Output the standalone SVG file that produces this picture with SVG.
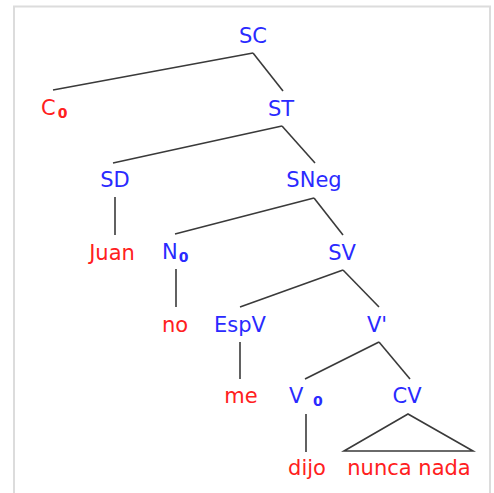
<svg xmlns="http://www.w3.org/2000/svg" width="494" height="493" viewBox="0 0 494 493">
<style>
text{font-family:"DejaVu Sans",Verdana,sans-serif;font-size:21px}
.ph{fill:#2a2aff;text-anchor:middle}
.lx{fill:#ff2020;text-anchor:middle}
.st{text-anchor:start}
.sub{font-size:14px;font-weight:bold}
#edges line,#edges polygon{stroke:#3a3a3a;stroke-width:1.6;fill:none}
</style>
<rect x="0" y="0" width="494" height="493" fill="#fff"/>
<rect x="14" y="6.5" width="476" height="500" fill="none" stroke="#dcdcdc" stroke-width="2"/>
<g id="edges">
<line x1="253" y1="53" x2="53" y2="90"/>
<line x1="253" y1="53" x2="283" y2="91"/>
<line x1="282" y1="126" x2="113" y2="163"/>
<line x1="282" y1="126" x2="315" y2="163"/>
<line x1="115" y1="197" x2="115" y2="235"/>
<line x1="314" y1="198" x2="175" y2="234"/>
<line x1="314" y1="198" x2="343" y2="235"/>
<line x1="176" y1="269" x2="176" y2="307"/>
<line x1="343" y1="270" x2="240" y2="307"/>
<line x1="343" y1="270" x2="379" y2="307"/>
<line x1="240" y1="342" x2="240" y2="379"/>
<line x1="379" y1="342" x2="305" y2="379"/>
<line x1="379" y1="342" x2="410" y2="379"/>
<line x1="306" y1="414" x2="306" y2="452"/>
<polygon points="408,414 344,451 473,451"/>
</g>
<g id="n-SC"><text class="ph" x="253" y="43">SC</text></g>
<g id="n-C0"><text class="ph st" x="41" y="115" fill="#ff2020" style="fill:#ff2020">C<tspan class="sub" dx="2" dy="3">0</tspan></text></g>
<g id="n-ST"><text class="ph" x="281" y="116">ST</text></g>
<g id="n-SD"><text class="ph" x="115" y="187">SD</text></g>
<g id="n-SNeg"><text class="ph" x="314" y="187">SNeg</text></g>
<g id="n-Juan"><text class="lx" x="112" y="260">Juan</text></g>
<g id="n-N0"><text class="ph st" x="162" y="259">N<tspan class="sub" dx="1" dy="3">0</tspan></text></g>
<g id="n-SV"><text class="ph" x="342" y="260">SV</text></g>
<g id="n-no"><text class="lx" x="175" y="332">no</text></g>
<g id="n-EspV"><text class="ph" x="240" y="332">EspV</text></g>
<g id="n-Vbar"><text class="ph" x="377" y="332">V'</text></g>
<g id="n-me"><text class="lx" x="241" y="403">me</text></g>
<g id="n-V0"><text class="ph st" x="289" y="403">V<tspan class="sub" x="313" dy="3">0</tspan></text></g>
<g id="n-CV"><text class="ph" x="407" y="403">CV</text></g>
<g id="n-dijo"><text class="lx" x="307" y="475">dijo</text></g>
<g id="n-nunca"><text class="lx" x="409" y="475">nunca nada</text></g>
</svg>
